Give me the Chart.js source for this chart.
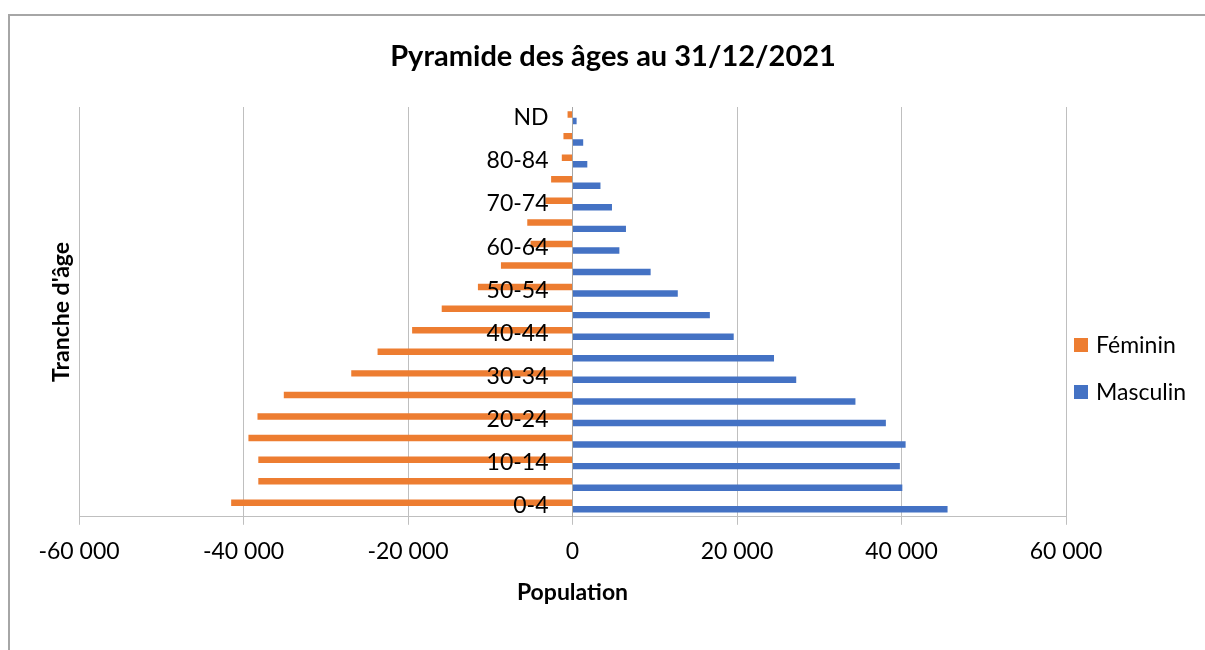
<!DOCTYPE html>
<html>
<head>
<meta charset="utf-8">
<script src="https://cdn.jsdelivr.net/npm/chart.js@4"></script>
<style>
  body { margin: 0; background: #fff; }
  #wrap { width: 1205px; height: 650px; position: relative; }
</style>
</head>
<body>
<div id="wrap"><canvas id="pyramidChart"></canvas></div>
<script>
// age groups from youngest to oldest (drawn bottom to top)
const ageGroups = ["0-4", "5-9", "10-14", "15-19", "20-24", "25-29", "30-34", "35-39", "40-44", "45-49",
  "50-54", "55-59", "60-64", "65-69", "70-74", "75-79", "80-84", "85+", "ND"];
const feminin = [41500, 38200, 38200, 39400, 38300, 35100, 26900, 23700, 19500, 15900,
  11500, 8700, 5100, 5500, 3300, 2600, 1300, 1100, 600];
const masculin = [45600, 40100, 39800, 40500, 38100, 34400, 27200, 24500, 19600, 16700,
  12800, 9500, 5700, 6500, 4800, 3400, 1800, 1300, 500];
const xTicks = [-60000, -40000, -20000, 0, 20000, 40000, 60000];

const font = "Lato";
const chartTitle = "Pyramide des âges au 31/12/2021";

function formatPop(v) {
  const s = Math.abs(v).toString().replace(/\B(?=(\d{3})+(?!\d))/g, " ");
  return (v < 0 ? "-" : "") + s;
}

// frame, titles and legend drawn by hand to match the Excel layout
const extras = {
  id: "extras",
  beforeDraw(chart) {
    const ctx = chart.ctx;
    ctx.save();
    ctx.strokeStyle = "#a6a6a6";
    ctx.lineWidth = 2;
    ctx.strokeRect(9, 15, 1400, 1000);
    ctx.restore();
  },
  afterDraw(chart) {
    const ctx = chart.ctx;
    const area = chart.chartArea;

    ctx.save();
    ctx.fillStyle = "#000";
    ctx.font = "bold 29px " + font;
    ctx.textAlign = "center";
    ctx.textBaseline = "middle";
    ctx.fillText(chartTitle, 613, 56.5);
    ctx.restore();

    ctx.save();
    ctx.fillStyle = "#000";
    ctx.font = "bold 23px " + font;
    ctx.textAlign = "center";
    ctx.textBaseline = "middle";
    ctx.translate(62, (area.top + area.bottom) / 2);
    ctx.rotate(-Math.PI / 2);
    ctx.fillText("Tranche d'âge", 0, 0);
    ctx.restore();

    ctx.save();
    ctx.font = "23px " + font;
    ctx.textBaseline = "middle";
    chart.data.datasets.forEach((ds, i) => {
      const y = 345 + i * 47;
      ctx.fillStyle = ds.backgroundColor;
      ctx.fillRect(1074, y - 7, 14, 14);
      ctx.fillStyle = "#000";
      ctx.fillText(ds.label, 1096, y + 1);
    });
    ctx.restore();
  }
};

const labelsTopDown = ageGroups.slice().reverse();

new Chart(document.getElementById("pyramidChart"), {
  type: "bar",
  data: {
    labels: labelsTopDown,
    datasets: [
      {
        label: "Féminin",
        data: feminin.slice().reverse().map((v) => -v),
        backgroundColor: "#ED7D31",
        categoryPercentage: 0.6,
        barPercentage: 1.0,
      },
      {
        label: "Masculin",
        data: masculin.slice().reverse(),
        backgroundColor: "#4472C4",
        categoryPercentage: 0.6,
        barPercentage: 1.0,
      },
    ],
  },
  options: {
    indexAxis: "y",
    responsive: true,
    maintainAspectRatio: false,
    animation: false,
    layout: {
      padding: { top: 107, left: 79, right: 139, bottom: 37 },
    },
    plugins: {
      legend: { display: false },
      tooltip: { enabled: false },
      title: { display: false },
    },
    scales: {
      x: {
        min: -60000,
        max: 60000,
        afterBuildTicks(scale) {
          scale.ticks = xTicks.map((v) => ({ value: v }));
        },
        grid: { color: "#bfbfbf", lineWidth: 1, tickLength: 8 },
        border: { color: "#bfbfbf" },
        ticks: {
          color: "#000",
          padding: 13,
          font: { family: font, size: 23 },
          callback: (v) => formatPop(v),
        },
        title: {
          display: true,
          text: "Population",
          color: "#000",
          font: { family: font, size: 23, weight: "bold" },
          padding: { top: 0, bottom: 7 },
        },
      },
      y: {
        position: "center",
        grid: { display: false, drawTicks: false },
        border: { display: true, color: "#a6a6a6" },
        ticks: {
          z: 1,
          autoSkip: false,
          padding: 24,
          color: "#000",
          font: { family: font, size: 23 },
          callback(v, i) {
            return i % 2 === 0 ? this.getLabelForValue(v) : "";
          },
        },
      },
    },
  },
  plugins: [extras],
});
</script>
</body>
</html>
